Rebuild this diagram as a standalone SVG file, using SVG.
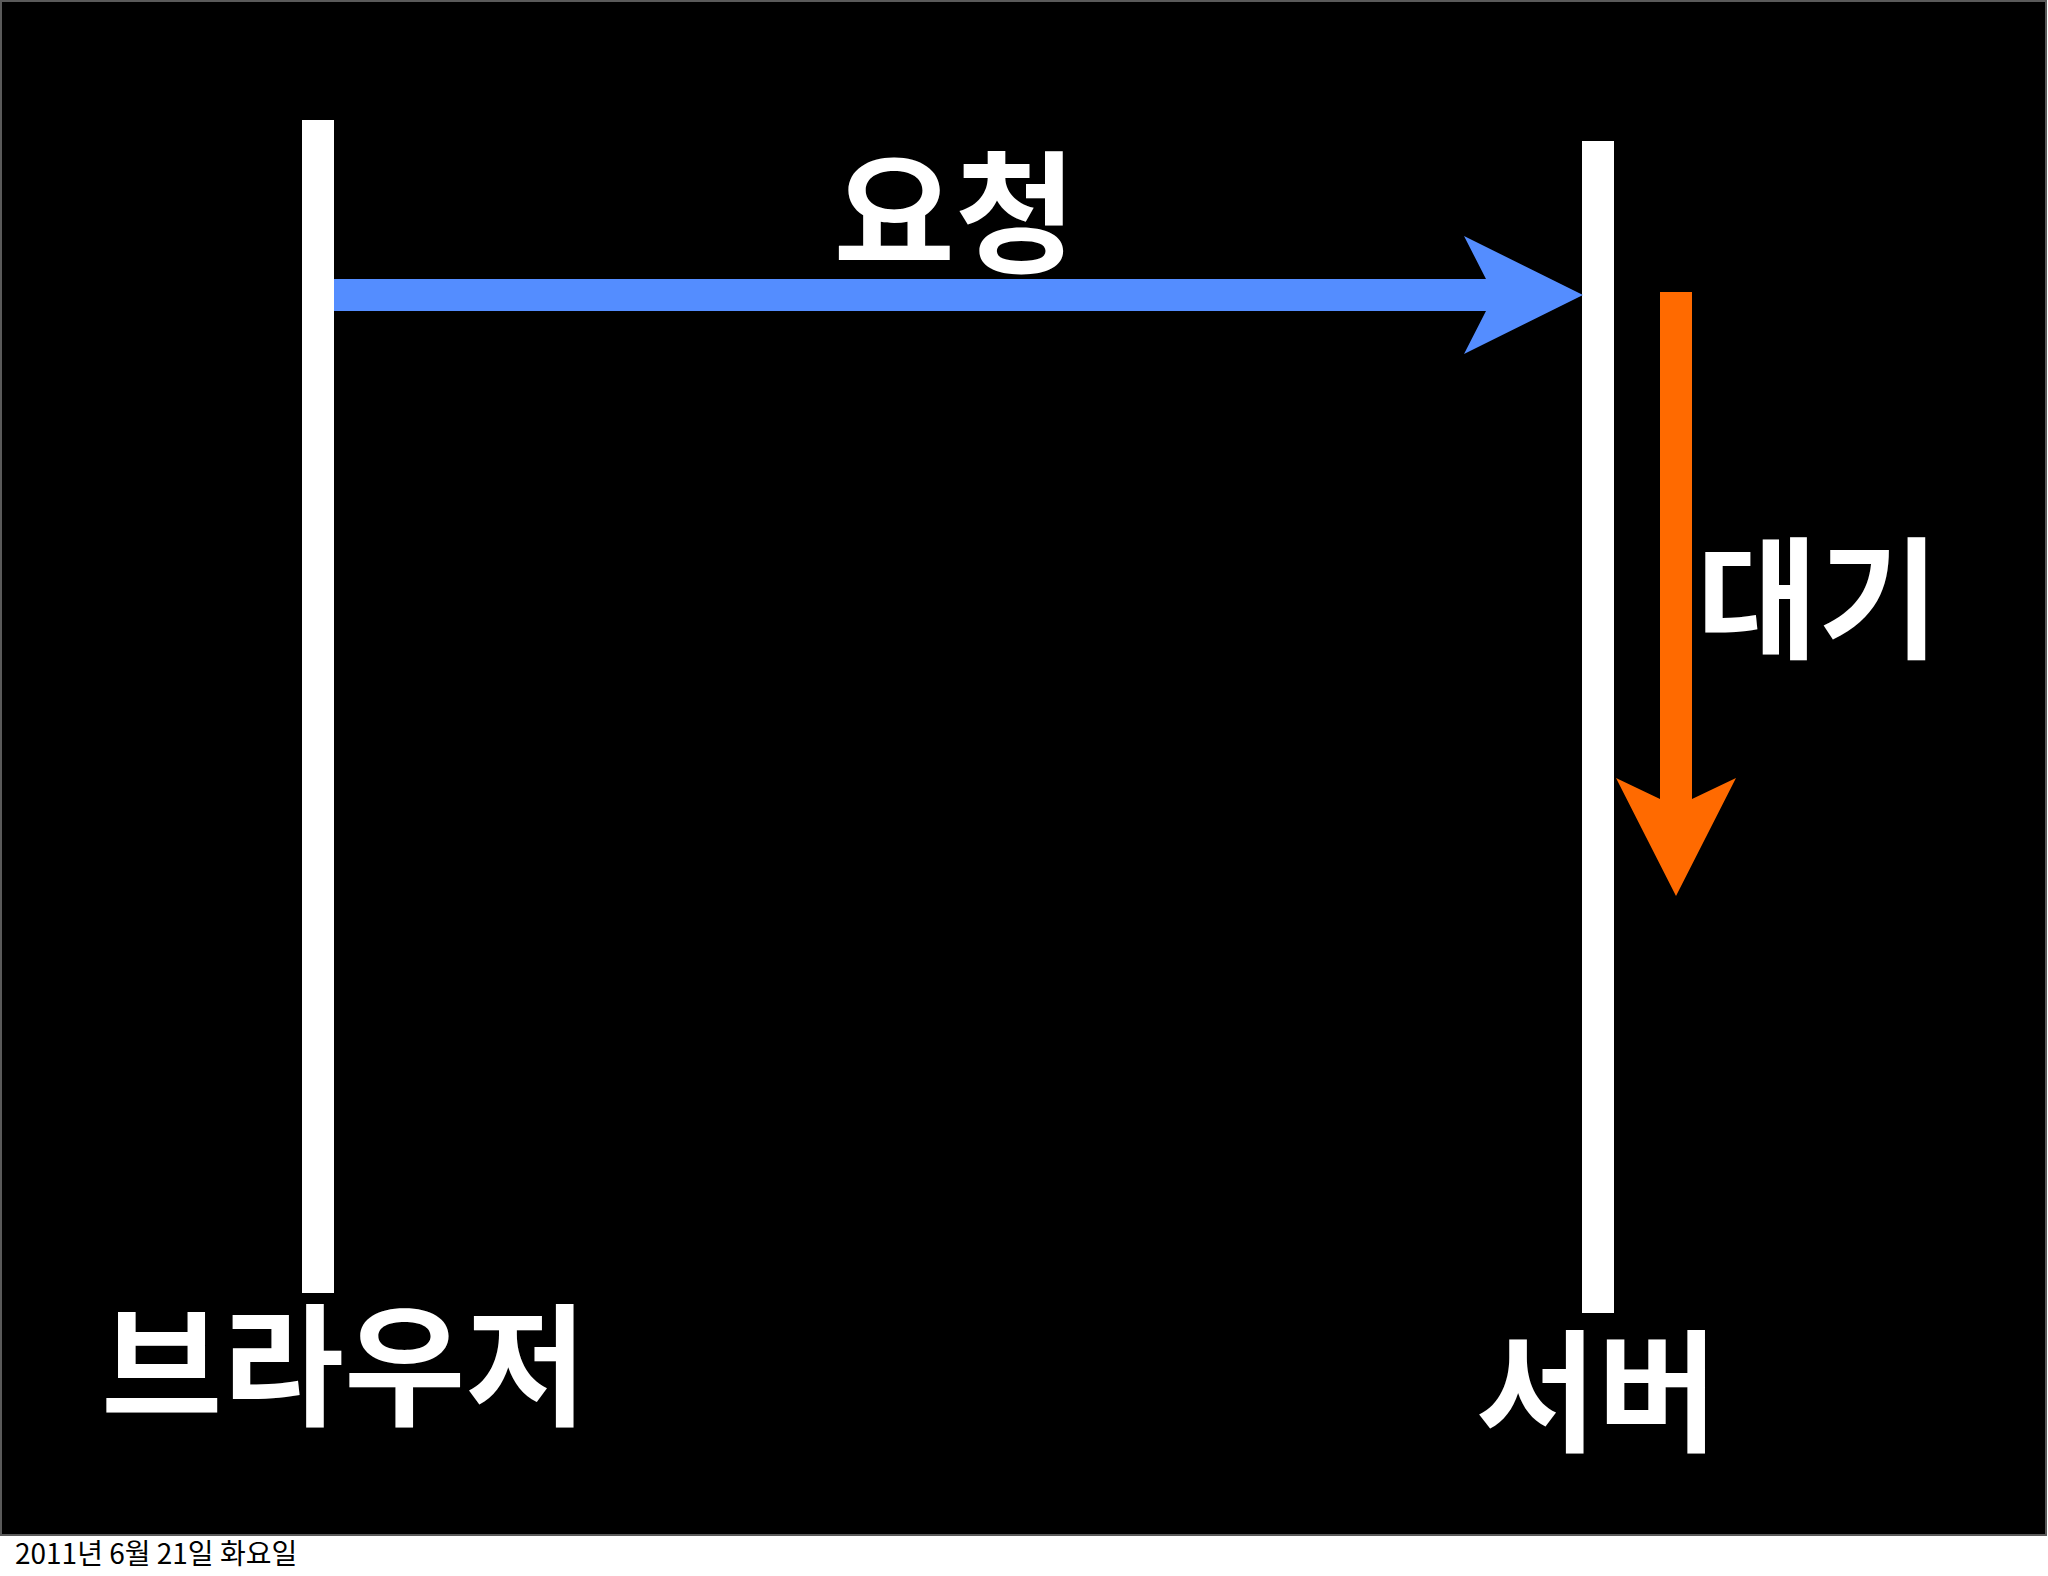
<svg xmlns="http://www.w3.org/2000/svg" width="2048" height="1576" viewBox="0 0 2048 1576">
<style>
.lbl{font-family:"Noto Sans CJK KR","Noto Sans",sans-serif;font-weight:700;fill:#ffffff;font-size:132px;}
.date{font-family:"Noto Sans CJK KR","Noto Sans",sans-serif;font-size:28px;fill:#000000;}
.bar{fill:#ffffff;}
</style>
<rect x="0" y="0" width="2048" height="1576" fill="#ffffff"/>
<rect x="1" y="1" width="2045" height="1534" fill="#000000" stroke="#5a5a5a" stroke-width="2"/>
<g id="browser">
<rect class="bar" x="302" y="120" width="32" height="1173"/>
<text class="lbl" x="344" y="1415" text-anchor="middle">브라우저</text>
</g>
<g id="server">
<rect class="bar" x="1582" y="141" width="32" height="1172"/>
<text class="lbl" x="1597" y="1441" text-anchor="middle">서버</text>
</g>
<g id="connectors">
<g id="request">
<polygon fill="#548DFF" points="334,279 1486,279 1464,236 1583,295 1464,354 1486,311 334,311"/>
<text class="lbl" x="955" y="262" text-anchor="middle">요청</text>
</g>
<g id="wait">
<polygon fill="#FF6A00" points="1660,292 1692,292 1692,799 1736,778 1676,896 1616,778 1660,799"/>
<text class="lbl" x="1818" y="648" text-anchor="middle">대기</text>
</g>
</g>
<text class="date" x="15" y="1564">2011년 6월 21일 화요일</text>
</svg>
